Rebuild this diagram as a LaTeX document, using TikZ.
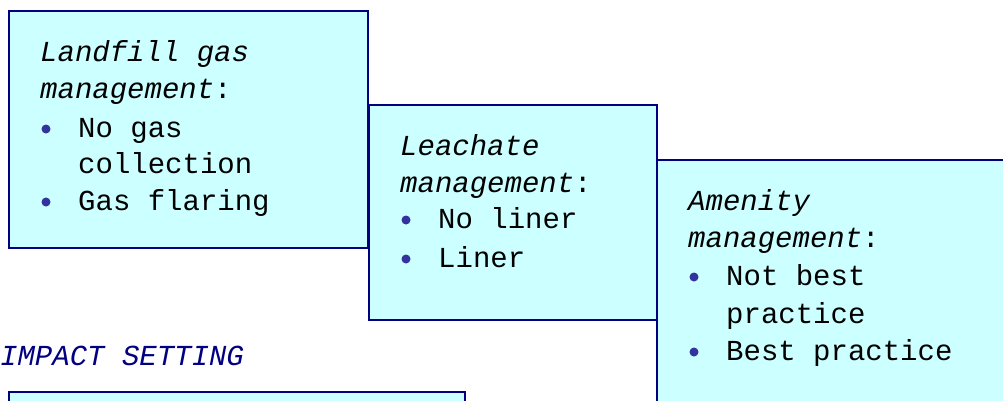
\documentclass[tikz,border=0pt]{standalone}
\usepackage{fontspec}
\setmainfont{Liberation Mono}
\definecolor{boxline}{RGB}{0,0,128}
\definecolor{boxfill}{RGB}{204,255,255}
\definecolor{dotblue}{RGB}{51,51,160}
\tikzset{
  mgmtbox/.style={draw=boxline, fill=boxfill, line width=2pt},
  itemtext/.style={anchor=base west, inner sep=0pt, font=\fontsize{29}{37}\selectfont},
  itemdot/.style={fill=dotblue, draw=none}
}
\begin{document}
\begin{tikzpicture}[x=1pt,y=-1pt]
                    \useasboundingbox (0,0) rectangle (1003,400);
                    \clip (0,0) rectangle (1003,400);

                    % Drawing box for gas management
                    \draw [mgmtbox] (9,11) rectangle (368,248);%

                    % Marking text of gas box
                    \node [itemtext] (gashead) at (40,61) {\textit{Landfill gas}};%
                    \node [itemtext] (gasmgmt) at (40,98) {\textit{management}:};%
                    \fill [itemdot] (46,129) circle [radius=4.5pt];%
                    \node [itemtext] (gasone) at (78,137) {No gas};%
                    \node [itemtext] (gasonecont) at (78,173) {collection};%
                    \fill [itemdot] (46,202) circle [radius=4.5pt];%
                    \node [itemtext] (gastwo) at (78,210) {Gas flaring};%

                    % Drawing box for leachate management
                    \draw [mgmtbox] (369,105) rectangle (657,320);%

                    % Marking text of leachate box
                    \node [itemtext] (leachead) at (400,155) {\textit{Leachate}};%
                    \node [itemtext] (leacmgmt) at (400,192) {\textit{management}:};%
                    \fill [itemdot] (406,220) circle [radius=4.5pt];%
                    \node [itemtext] (leacone) at (438,228) {No liner};%
                    \fill [itemdot] (406,259) circle [radius=4.5pt];%
                    \node [itemtext] (leactwo) at (438,267) {Liner};%

                    % Drawing box for amenity management
                    \draw [mgmtbox] (657,160) rectangle (1012,412);%

                    % Marking text of amenity box
                    \node [itemtext] (amenhead) at (688,210) {\textit{Amenity}};%
                    \node [itemtext] (amenmgmt) at (688,247) {\textit{management}:};%
                    \fill [itemdot] (694,277) circle [radius=4.5pt];%
                    \node [itemtext] (amenone) at (726,285) {Not best};%
                    \node [itemtext] (amenonecont) at (726,323) {practice};%
                    \fill [itemdot] (694,352) circle [radius=4.5pt];%
                    \node [itemtext] (amentwo) at (726,360) {Best practice};%

                    % Marking heading of impact setting
                    \node [itemtext, text=boxline] (impact) at (0,365) {\textit{IMPACT SETTING}};%

                    % Drawing box for impact setting
                    \draw [mgmtbox] (9,392) rectangle (465,412);%
\end{tikzpicture}
\end{document}
